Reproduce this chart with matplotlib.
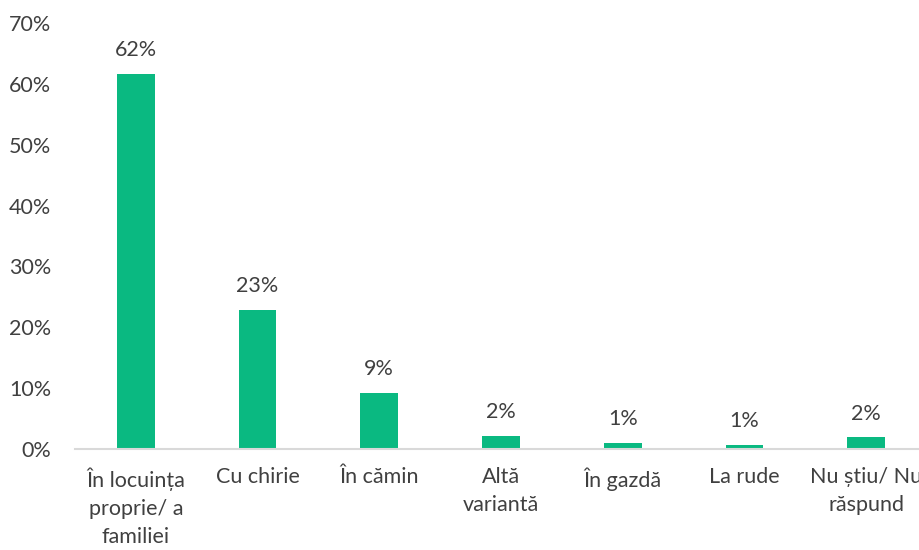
import matplotlib
matplotlib.use("Agg")
import matplotlib.pyplot as plt
from matplotlib.ticker import FuncFormatter

categories = ["În locuința\nproprie/ a\nfamiliei", "Cu chirie", "În cămin", "Altă\nvariantă",
              "În gazdă", "La rude", "Nu știu/ Nu\nrăspund"]
values = [61.7, 22.9, 9.2, 2.1, 1.0, 0.6, 1.9]
value_labels = ["62%", "23%", "9%", "2%", "1%", "1%", "2%"]
yticks = [0, 10, 20, 30, 40, 50, 60, 70]

plt.rcParams['font.family'] = ['Lato', 'DejaVu Sans']
text_color = "#404040"
fs = 15.5

fig = plt.figure(figsize=(9.2, 5.5), dpi=100)
ax = fig.add_axes([75/920, 101/550, 852/920, 426/550])

x = list(range(len(categories)))
ax.bar(x, values, width=0.31, color="#0AB981", zorder=2)
for xi, v, lab in zip(x, values, value_labels):
    ax.annotate(lab, (xi, v), xytext=(0, 10), textcoords="offset points",
                ha="center", va="bottom", fontsize=fs, color=text_color)

ax.set_xlim(-0.5, len(categories) - 0.5)
ax.set_ylim(0, 70)
ax.set_yticks(yticks)
ax.yaxis.set_major_formatter(FuncFormatter(lambda v, p: f"{int(v)}%"))
ax.set_xticks(x)
ax.set_xticklabels(categories, fontsize=fs, color=text_color, linespacing=1.5, va="top")
for t in ax.get_yticklabels():
    t.set_fontsize(fs)
    t.set_color(text_color)
ax.tick_params(axis="both", length=0)
ax.tick_params(axis="y", pad=17)
ax.tick_params(axis="x", pad=13)
for s in ["top", "right", "left"]:
    ax.spines[s].set_visible(False)
ax.spines["bottom"].set_color("#D9D9D9")
ax.spines["bottom"].set_linewidth(1.5)

fig.savefig("out.png", dpi=100)
